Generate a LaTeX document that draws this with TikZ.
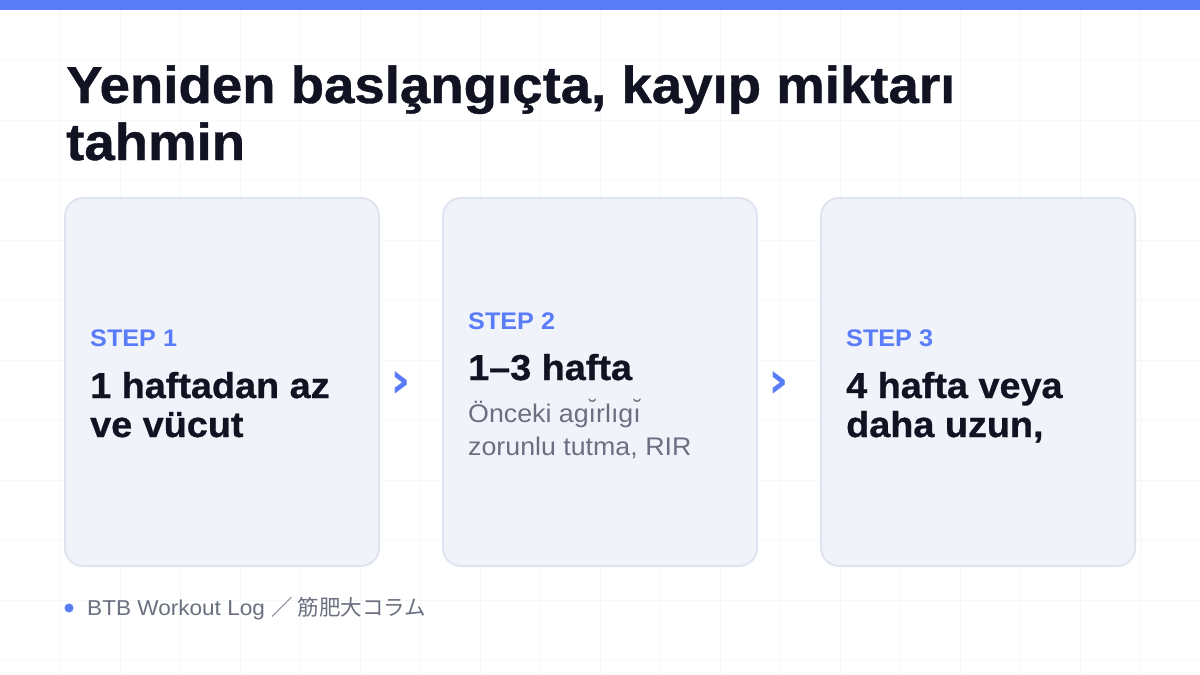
\documentclass[tikz,border=0pt]{standalone}
\usepackage{fontspec}
\setmainfont{Liberation Sans}[FakeStretch=1.05]
\newfontfamily\heavyfont{Liberation Sans}[FakeStretch=1.05, BoldFeatures={FakeBold=0.8}]
\newfontfamily\symfont{DejaVu Sans}
\newfontfamily\cjk{Noto Sans CJK JP}
\usepackage{tikz}

\definecolor{accent}{RGB}{91,124,248}
\definecolor{ink}{RGB}{17,19,34}
\definecolor{muted}{RGB}{107,112,128}
\definecolor{cardfill}{RGB}{241,243,251}
\definecolor{cardline}{RGB}{224,228,240}
\definecolor{gridline}{RGB}{246,247,250}

\begin{document}
\begin{tikzpicture}[x=1pt,y=-1pt]
\tikzstyle{every node}+=[inner sep=0pt]
\tikzstyle{card}=[draw=cardline, line width=2pt, fill=cardfill, rounded corners=18pt, minimum width=314, minimum height=368]
\tikzstyle{titletext}=[anchor=base west, text=ink, font=\heavyfont\bfseries\fontsize{52}{52}\selectfont]
\tikzstyle{steplabel}=[anchor=base west, text=accent, font=\bfseries\fontsize{24}{24}\selectfont]
\tikzstyle{stephead}=[anchor=base west, text=ink, font=\heavyfont\bfseries\fontsize{36}{36}\selectfont]
\tikzstyle{stepbody}=[anchor=base west, text=muted, font=\fontsize{25.5}{25.5}\selectfont]
\tikzstyle{chev}=[text=accent, font=\symfont\bfseries\fontsize{50}{50}\selectfont]
\tikzstyle{foot}=[anchor=base west, text=muted, font=\fontsize{21.5}{21.5}\selectfont]
\useasboundingbox (0,0) rectangle (1200,675);
\fill [white] (0,0) rectangle (1200,675);
\foreach \gx in {60,120,...,1140} \draw [gridline, line width=1pt] (\gx,0) -- (\gx,675);
\foreach \gy in {60,120,...,660} \draw [gridline, line width=1pt] (0,\gy) -- (1200,\gy);
\fill [accent] (0,0) rectangle (1200,10);
\node [titletext] (title1) at (66,103) {Yeniden basla̧ngıçta, kayıp miktarı};
\node [titletext] (title2) at (66,160) {tahmin};
\node [card] (card1) at (222,382) {};
\node [card] (card2) at (600,382) {};
\node [card] (card3) at (978,382) {};
\node [chev] (chev1) at (401,385) {›};
\node [chev] (chev2) at (779,385) {›};
\node [steplabel] (step1) at (90,346) {STEP 1};
\node [stephead] (head1a) at (90,398) {1 haftadan az};
\node [stephead] (head1b) at (90,437) {ve vücut};
\node [steplabel] (step2) at (468,329) {STEP 2};
\node [stephead] (head2) at (468,380) {1–3 hafta};
\node [stepbody] (body2a) at (468,422) {Önceki agı̆rlıgı̆};
\node [stepbody] (body2b) at (468,455) {zorunlu tutma, RIR};
\node [steplabel] (step3) at (846,346) {STEP 3};
\node [stephead] (head3a) at (846,398) {4 hafta veya};
\node [stephead] (head3b) at (846,437) {daha uzun,};
\node [circle, fill=accent, minimum size=9] (dot) at (69,608) {};
\node [foot] (source) at (87,615) {BTB Workout Log {\cjk ／ 筋肥大コラム}};
\end{tikzpicture}
\end{document}
